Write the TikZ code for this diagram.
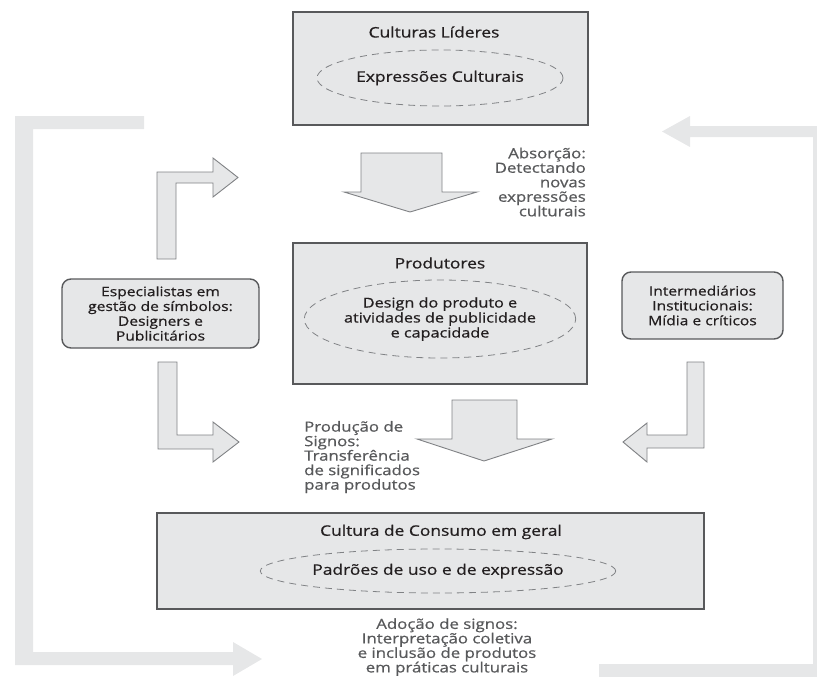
\documentclass[tikz,border=0pt]{standalone}
\usepackage{fontspec}
\setmainfont{Open Sans}[FakeStretch=1.2,FakeBold=0.7]
\usetikzlibrary{shapes.geometric}
\definecolor{boxFill}{HTML}{E6E7E8}
\definecolor{boxLine}{HTML}{58595B}
\definecolor{arrowLine}{HTML}{808285}
\definecolor{textDark}{HTML}{231F20}
\definecolor{textGray}{HTML}{58595B}
\begin{document}
\begin{tikzpicture}
[x=1pt,y=-1pt,%
  boxDecorate/.style={draw=boxLine,fill=boxFill,line width=1.4pt,inner sep=0pt},%
  roundDecorate/.style={boxDecorate,rounded corners=9pt,text=textDark,align=center,
    font=\fontsize{13}{14.8}\selectfont},%
  ellipseDecorate/.style={shape=ellipse,draw=arrowLine,dash pattern=on 7pt off 5pt,
    line width=0.8pt,inner sep=0pt,text=textDark,align=center,
    font=\fontsize{13.5}{15}\selectfont},%
  titleDecorate/.style={text=textDark,inner sep=0pt,font=\fontsize{14.5}{16}\selectfont},%
  noteDecorate/.style={text=textGray,inner sep=0pt,font=\fontsize{14}{14.5}\selectfont},%
  arrowDecorate/.style={draw=arrowLine,fill=boxFill,line width=0.9pt},%
  bandDecorate/.style={fill=boxFill}]
\useasboundingbox (0,0) rectangle (817,677);
%% feedback bands
\fill[bandDecorate] (15,116) -- (144,116) -- (144,129) -- (33,129) -- (33,652)
  -- (233,652) -- (233,642) -- (262,659) -- (233,676) -- (233,665) -- (15,665) -- cycle;
\fill[bandDecorate] (817,126) -- (690,126) -- (690,116) -- (662,131.5) -- (690,147)
  -- (690,137) -- (813,137) -- (813,664) -- (599,664) -- (599,677) -- (817,677) -- cycle;
%% boxes
\foreach \nodename/\x/\y/\w/\h in {
  leaders/440.5/68.5/295/113, producers/440/313.5/294/141, consumers/430.5/561/547/96}
{
  \node (\nodename) at (\x,\y) [boxDecorate,minimum width=\w pt,minimum height=\h pt] {};
}
\node (leadersTitle) at (434,32) [titleDecorate] {Culturas Líderes};
\node (producersTitle) at (440,263) [titleDecorate] {Produtores};
\node (consumersTitle) at (441,532) [titleDecorate] {Cultura de Consumo em geral};
%% dashed ellipses
\node (expressions) at (440,78) [ellipseDecorate,minimum width=246pt,minimum height=56pt,
  font=\fontsize{14.5}{16}\selectfont] {Expressões Culturais};
\node (design) at (440,319) [ellipseDecorate,minimum width=246pt,minimum height=78pt]
  {Design do produto e\\atividades de publicidade\\e capacidade};
\node (patterns) at (438,571) [ellipseDecorate,minimum width=322pt,minimum height=44pt,
  font=\fontsize{14.5}{16}\selectfont] {Padrões de uso e de expressão};
%% side boxes
\node (specialists) at (160.5,313.5) [roundDecorate,minimum width=197pt,minimum height=69pt]
  {Especialistas em\\gestão de símbolos:\\Designers e\\Publicitários};
\node (intermediaries) at (702.5,305.5) [roundDecorate,minimum width=161pt,minimum height=67pt]
  {Intermediários\\Institucionais:\\Mídia e críticos};
%% notes
\node (absorption) at (586,182) [noteDecorate,anchor=east,align=right]
  {Absorção:\\Detectando\\novas\\expressões\\culturais};
\node (production) at (304,457) [noteDecorate,anchor=west,align=left]
  {Produção de\\Signos:\\Transferência\\de significados\\para produtos};
\node (adoption) at (447,647) [noteDecorate,align=center]
  {Adoção de signos:\\Interpretação coletiva\\e inclusão de produtos\\em práticas culturais};
%% block arrows
\draw[arrowDecorate] (361,153) -- (442,153) -- (442,192) -- (477,192) -- (410,212)
  -- (344,192) -- (361,192) -- cycle;
\draw[arrowDecorate] (452,400) -- (517,400) -- (517,439) -- (552,439) -- (484,461)
  -- (417,439) -- (452,439) -- cycle;
\draw[arrowDecorate] (157,259) -- (157,172) -- (213,172) -- (213,158) -- (238,177.5)
  -- (213,197) -- (213,183) -- (176,183) -- (176,259) -- cycle;
\draw[arrowDecorate] (158,362) -- (158,449) -- (213,449) -- (213,462) -- (239,442)
  -- (213,422) -- (213,435) -- (177,435) -- (177,362) -- cycle;
\draw[arrowDecorate] (704,362) -- (704,448) -- (647,448) -- (647,462) -- (623,442)
  -- (647,423) -- (647,435) -- (687,435) -- (687,362) -- cycle;
\end{tikzpicture}
\end{document}
